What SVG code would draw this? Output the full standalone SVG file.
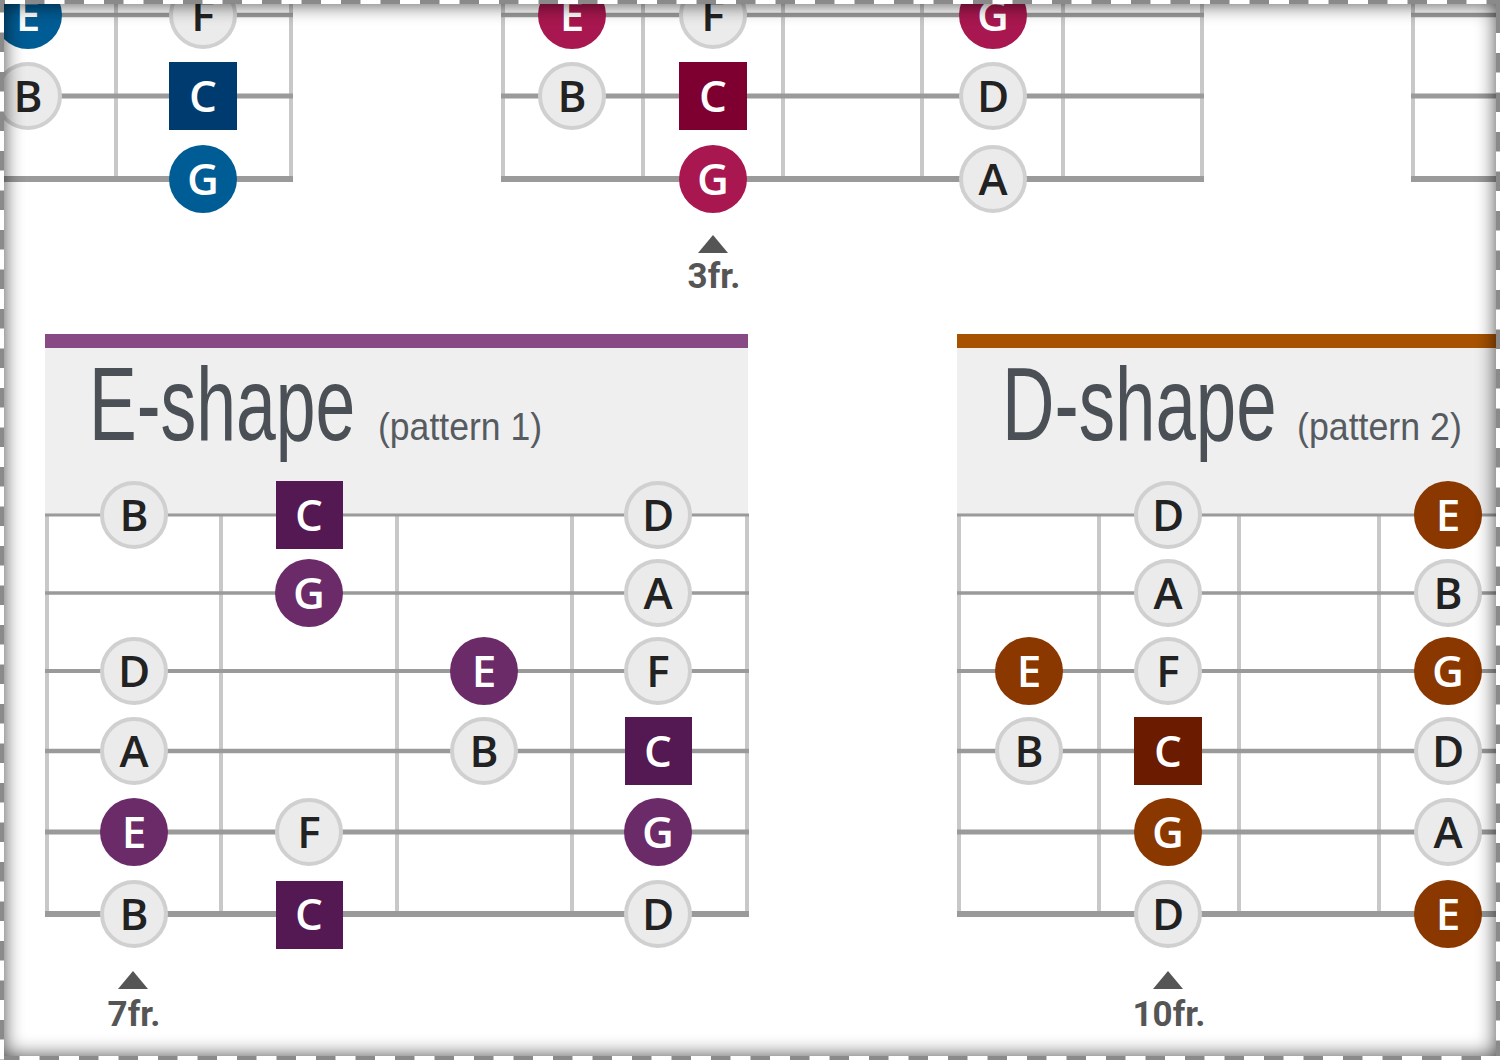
<svg xmlns="http://www.w3.org/2000/svg" width="1500" height="1060" viewBox="0 0 1500 1060">
<defs>
<style>
.fret{stroke:#c8c8c8;stroke-width:4}
.s1{stroke:#9a9a9a;stroke-width:3}
.s2{stroke:#9a9a9a;stroke-width:3.5}
.s3{stroke:#9a9a9a;stroke-width:4}
.s4{stroke:#9a9a9a;stroke-width:4.5}
.s5{stroke:#9a9a9a;stroke-width:5}
.s6{stroke:#9a9a9a;stroke-width:6}
.g{fill:#ebebeb;stroke:#d0d0d0;stroke-width:4}
.nt{font-family:"Open Sans","Noto Sans",sans-serif;font-size:44px;font-weight:600;text-anchor:middle}
.dk{fill:#222}
.wh{fill:#fff}
.title{font-family:"Liberation Sans",sans-serif;fill:#4a5055}
.sub{font-family:"Liberation Sans",sans-serif;fill:#555b60}
.fr{font-family:Roboto,"Liberation Sans",sans-serif;font-weight:bold;font-size:35px;fill:#555;text-anchor:middle}
.tri{fill:#555}
</style>
<filter id="blur" x="-10%" y="-10%" width="120%" height="120%"><feGaussianBlur stdDeviation="10"/></filter>
</defs>
<rect width="1500" height="1060" fill="#fff"/>

<g id="panel-top-left">
<g class="fret"><line x1="116" y1="0" x2="116" y2="179"/><line x1="291" y1="0" x2="291" y2="181"/></g>
<line class="s4" x1="0" y1="15" x2="293" y2="15"/>
<line class="s5" x1="0" y1="96" x2="293" y2="96"/>
<line class="s6" x1="0" y1="179" x2="293" y2="179"/>
<g id="tl-E"><circle cx="28" cy="15" r="34" fill="#005c94"/><text class="nt wh" x="28" y="31">E</text></g>
<g id="tl-F"><circle class="g" cx="203" cy="15" r="32"/><text class="nt dk" x="203" y="31">F</text></g>
<g id="tl-B"><circle class="g" cx="28" cy="96" r="32"/><text class="nt dk" x="28" y="112">B</text></g>
<g id="tl-C"><rect x="169" y="62" width="68" height="68" fill="#003b70"/><text class="nt wh" x="203" y="112">C</text></g>
<g id="tl-G"><circle cx="203" cy="179" r="34" fill="#005c94"/><text class="nt wh" x="203" y="195">G</text></g>
</g>

<g id="panel-top-mid">
<g class="fret"><line x1="503" y1="0" x2="503" y2="179"/><line x1="643" y1="0" x2="643" y2="179"/><line x1="783" y1="0" x2="783" y2="179"/><line x1="922" y1="0" x2="922" y2="179"/><line x1="1063" y1="0" x2="1063" y2="179"/><line x1="1202" y1="0" x2="1202" y2="179"/></g>
<line class="s4" x1="501" y1="15" x2="1204" y2="15"/>
<line class="s5" x1="501" y1="96" x2="1204" y2="96"/>
<line class="s6" x1="501" y1="179" x2="1204" y2="179"/>
<g id="tm-E"><circle cx="572" cy="15" r="34" fill="#a8174f"/><text class="nt wh" x="572" y="31">E</text></g>
<g id="tm-F"><circle class="g" cx="713" cy="15" r="32"/><text class="nt dk" x="713" y="31">F</text></g>
<g id="tm-G1"><circle cx="993" cy="15" r="34" fill="#a8174f"/><text class="nt wh" x="993" y="31">G</text></g>
<g id="tm-B"><circle class="g" cx="572" cy="96" r="32"/><text class="nt dk" x="572" y="112">B</text></g>
<g id="tm-C"><rect x="679" y="62" width="68" height="68" fill="#7e0030"/><text class="nt wh" x="713" y="112">C</text></g>
<g id="tm-D"><circle class="g" cx="993" cy="96" r="32"/><text class="nt dk" x="993" y="112">D</text></g>
<g id="tm-G2"><circle cx="713" cy="179" r="34" fill="#a8174f"/><text class="nt wh" x="713" y="195">G</text></g>
<g id="tm-A"><circle class="g" cx="993" cy="179" r="32"/><text class="nt dk" x="993" y="195">A</text></g>
<g id="tm-fret"><polygon class="tri" points="698,253 728,253 713,235"/><text class="fr" x="714" y="288">3fr.</text></g>
</g>

<g id="panel-top-right">
<line class="fret" x1="1413" y1="0" x2="1413" y2="181"/>
<line class="s4" x1="1411" y1="15" x2="1500" y2="15"/>
<line class="s5" x1="1411" y1="96" x2="1500" y2="96"/>
<line class="s6" x1="1411" y1="179" x2="1500" y2="179"/>
</g>

<g id="panel-e-shape">
<rect x="45" y="334" width="703" height="14" fill="#874a85"/>
<rect x="45" y="348" width="703" height="167" fill="#efefef"/>
<text class="title" transform="translate(89,440) scale(0.69,1)" font-size="104" textLength="386" lengthAdjust="spacingAndGlyphs">E-shape</text>
<text class="sub" transform="translate(378,440) scale(0.82,1)" font-size="38" textLength="200" lengthAdjust="spacingAndGlyphs">(pattern 1)</text>
<g class="fret"><line x1="47" y1="515" x2="47" y2="914"/><line x1="221" y1="515" x2="221" y2="914"/><line x1="397" y1="515" x2="397" y2="914"/><line x1="572" y1="515" x2="572" y2="914"/><line x1="747" y1="515" x2="747" y2="914"/></g>
<line class="s1" x1="45" y1="515" x2="749" y2="515"/>
<line class="s2" x1="45" y1="593" x2="749" y2="593"/>
<line class="s3" x1="45" y1="671" x2="749" y2="671"/>
<line class="s4" x1="45" y1="751" x2="749" y2="751"/>
<line class="s5" x1="45" y1="832" x2="749" y2="832"/>
<line class="s6" x1="45" y1="914" x2="749" y2="914"/>
<g id="e-B1"><circle class="g" cx="134" cy="515" r="32"/><text class="nt dk" x="134" y="531">B</text></g>
<g id="e-C1"><rect x="276" y="481" width="67" height="68" fill="#541852"/><text class="nt wh" x="309" y="531">C</text></g>
<g id="e-D1"><circle class="g" cx="658" cy="515" r="32"/><text class="nt dk" x="658" y="531">D</text></g>
<g id="e-G1"><circle cx="309" cy="593" r="34" fill="#6b2a68"/><text class="nt wh" x="309" y="609">G</text></g>
<g id="e-A1"><circle class="g" cx="658" cy="593" r="32"/><text class="nt dk" x="658" y="609">A</text></g>
<g id="e-D2"><circle class="g" cx="134" cy="671" r="32"/><text class="nt dk" x="134" y="687">D</text></g>
<g id="e-E1"><circle cx="484" cy="671" r="34" fill="#6b2a68"/><text class="nt wh" x="484" y="687">E</text></g>
<g id="e-F1"><circle class="g" cx="658" cy="671" r="32"/><text class="nt dk" x="658" y="687">F</text></g>
<g id="e-A2"><circle class="g" cx="134" cy="751" r="32"/><text class="nt dk" x="134" y="767">A</text></g>
<g id="e-B2"><circle class="g" cx="484" cy="751" r="32"/><text class="nt dk" x="484" y="767">B</text></g>
<g id="e-C2"><rect x="625" y="717" width="67" height="68" fill="#541852"/><text class="nt wh" x="658" y="767">C</text></g>
<g id="e-E2"><circle cx="134" cy="832" r="34" fill="#6b2a68"/><text class="nt wh" x="134" y="848">E</text></g>
<g id="e-F2"><circle class="g" cx="309" cy="832" r="32"/><text class="nt dk" x="309" y="848">F</text></g>
<g id="e-G2"><circle cx="658" cy="832" r="34" fill="#6b2a68"/><text class="nt wh" x="658" y="848">G</text></g>
<g id="e-B3"><circle class="g" cx="134" cy="914" r="32"/><text class="nt dk" x="134" y="930">B</text></g>
<g id="e-C3"><rect x="276" y="881" width="67" height="68" fill="#541852"/><text class="nt wh" x="309" y="930">C</text></g>
<g id="e-D3"><circle class="g" cx="658" cy="914" r="32"/><text class="nt dk" x="658" y="930">D</text></g>
<g id="e-fret"><polygon class="tri" points="118,989 148,989 133,971"/><text class="fr" x="134" y="1026">7fr.</text></g>
</g>

<g id="panel-d-shape">
<rect x="957" y="334" width="543" height="14" fill="#a65200"/>
<rect x="957" y="348" width="543" height="167" fill="#efefef"/>
<text class="title" transform="translate(1002,440) scale(0.69,1)" font-size="104" textLength="398" lengthAdjust="spacingAndGlyphs">D-shape</text>
<text class="sub" transform="translate(1297,440) scale(0.82,1)" font-size="38" textLength="201" lengthAdjust="spacingAndGlyphs">(pattern 2)</text>
<g class="fret"><line x1="959" y1="515" x2="959" y2="914"/><line x1="1099" y1="515" x2="1099" y2="914"/><line x1="1239" y1="515" x2="1239" y2="914"/><line x1="1379" y1="515" x2="1379" y2="914"/></g>
<line class="s1" x1="957" y1="515" x2="1500" y2="515"/>
<line class="s2" x1="957" y1="593" x2="1500" y2="593"/>
<line class="s3" x1="957" y1="671" x2="1500" y2="671"/>
<line class="s4" x1="957" y1="751" x2="1500" y2="751"/>
<line class="s5" x1="957" y1="832" x2="1500" y2="832"/>
<line class="s6" x1="957" y1="914" x2="1500" y2="914"/>
<g id="d-D1"><circle class="g" cx="1168" cy="515" r="32"/><text class="nt dk" x="1168" y="531">D</text></g>
<g id="d-E1"><circle cx="1448" cy="515" r="34" fill="#8a3700"/><text class="nt wh" x="1448" y="531">E</text></g>
<g id="d-A1"><circle class="g" cx="1168" cy="593" r="32"/><text class="nt dk" x="1168" y="609">A</text></g>
<g id="d-B1"><circle class="g" cx="1448" cy="593" r="32"/><text class="nt dk" x="1448" y="609">B</text></g>
<g id="d-E2"><circle cx="1029" cy="671" r="34" fill="#8a3700"/><text class="nt wh" x="1029" y="687">E</text></g>
<g id="d-F1"><circle class="g" cx="1168" cy="671" r="32"/><text class="nt dk" x="1168" y="687">F</text></g>
<g id="d-G1"><circle cx="1448" cy="671" r="34" fill="#8a3700"/><text class="nt wh" x="1448" y="687">G</text></g>
<g id="d-B2"><circle class="g" cx="1029" cy="751" r="32"/><text class="nt dk" x="1029" y="767">B</text></g>
<g id="d-C1"><rect x="1134" y="717" width="68" height="68" fill="#6b1b00"/><text class="nt wh" x="1168" y="767">C</text></g>
<g id="d-D2"><circle class="g" cx="1448" cy="751" r="32"/><text class="nt dk" x="1448" y="767">D</text></g>
<g id="d-G2"><circle cx="1168" cy="832" r="34" fill="#8a3700"/><text class="nt wh" x="1168" y="848">G</text></g>
<g id="d-A2"><circle class="g" cx="1448" cy="832" r="32"/><text class="nt dk" x="1448" y="848">A</text></g>
<g id="d-D3"><circle class="g" cx="1168" cy="914" r="32"/><text class="nt dk" x="1168" y="930">D</text></g>
<g id="d-E3"><circle cx="1448" cy="914" r="34" fill="#8a3700"/><text class="nt wh" x="1448" y="930">E</text></g>
<g id="d-fret"><polygon class="tri" points="1153,989 1183,989 1168,971"/><text class="fr" x="1169" y="1026">10fr.</text></g>
</g>

<g id="frame">
<path d="M-60,-60 H1560 V1120 H-60 Z M4,4 V1056 H1496 V4 Z" fill="#000" fill-rule="evenodd" opacity="0.7" filter="url(#blur)"/>
<rect x="0" y="0" width="1500" height="1060" fill="none" stroke="#8a8a8a" stroke-width="8"/>
<g stroke="#fff" stroke-width="4" stroke-dasharray="20 19.5">
<line x1="5" y1="2" x2="1500" y2="2"/>
<line x1="2" y1="12.5" x2="2" y2="1060"/>
<line x1="19.5" y1="1058" x2="1500" y2="1058"/>
<line x1="1498" y1="33" x2="1498" y2="1060"/>
</g>
</g>
</svg>
